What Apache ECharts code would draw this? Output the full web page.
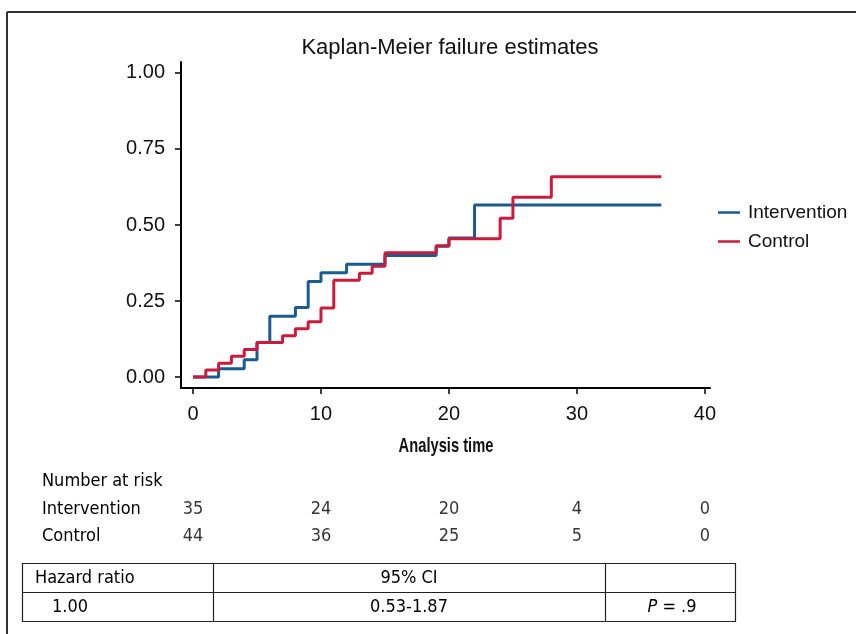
<!DOCTYPE html>
<html>
<head>
<meta charset="utf-8">
<script src="https://cdn.jsdelivr.net/npm/echarts@6/dist/echarts.min.js"></script>
<style>
html,body{margin:0;padding:0;background:#fff;}
#chart{width:856px;height:634px;}
</style>
</head>
<body>
<div id="chart"></div>
<script>
// ---- data ----
var seriesNames = ['Intervention', 'Control'];
var interventionTimes = [0, 2, 4, 5, 6, 8, 9, 10, 12, 15, 19, 20, 22, 36.6];
var interventionFail  = [0, 0.027, 0.057, 0.114, 0.2, 0.229, 0.314, 0.343, 0.371, 0.4, 0.43, 0.457, 0.566, 0.566];
var controlTimes = [0, 1, 2, 3, 4, 5, 7, 8, 9, 10, 11, 13, 14, 15, 19, 20, 24, 25, 28, 36.6];
var controlFail  = [0, 0.023, 0.045, 0.068, 0.091, 0.114, 0.136, 0.159, 0.182, 0.227, 0.318, 0.341, 0.364, 0.409, 0.432, 0.455, 0.522, 0.591, 0.659, 0.659];
var xTicks = [0, 10, 20, 30, 40];
var yTicks = [0, 0.25, 0.5, 0.75, 1.0];
var riskTimes = [0, 10, 20, 30, 40];
var riskIntervention = [35, 24, 20, 4, 0];
var riskControl = [44, 36, 25, 5, 0];
var hrHeader = ['Hazard ratio', '95% CI', ''];
var hrRow = ['1.00', '0.53-1.87', 'P = .9'];

var blue = '#1b5b8f';
var red = '#cc1a3d';
var narrow = '"DejaVu Sans Condensed","Liberation Sans Narrow",sans-serif';
var sans = '"Liberation Sans", Arial, Helvetica, sans-serif';

function pairs(xs, ys) { return xs.map(function (x, i) { return [x, ys[i]]; }); }
function riskPairs(vals, cat) { return riskTimes.map(function (t, i) { return [t, cat, vals[i]]; }); }

var chart = echarts.init(document.getElementById('chart'), null, {renderer: 'canvas'});
var GL = 181, GR = 146;
var xMin = -0.94, xMax = 40.4;

var option = {
  animation: false,
  backgroundColor: '#fff',
  title: {
    text: 'Kaplan-Meier failure estimates',
    left: 445, top: 32, textAlign: 'center',
    textStyle: {fontFamily: sans, fontSize: 22, fontWeight: 'normal', color: '#111'}
  },
  legend: {
    orient: 'vertical', left: 713, top: 198,
    itemWidth: 22, itemHeight: 16, itemGap: 10,
    icon: 'path://M0,6 L22,6 L22,8.5 L0,8.5 Z',
    textStyle: {fontFamily: sans, fontSize: 19, color: '#111', padding: [0, 0, 0, 3]},
    data: seriesNames
  },
  grid: [
    {left: GL, right: GR, top: 62, bottom: 246},
    {left: GL, right: GR, top: 496, height: 54}
  ],
  xAxis: [
    {
      type: 'value', gridIndex: 0, min: xMin, max: xMax,
      splitLine: {show: false},
      axisLine: {onZero: false, lineStyle: {color: '#000', width: 2}},
      axisTick: {show: true, length: 6, lineStyle: {color: '#000', width: 1.5}, customValues: xTicks},
      axisLabel: {fontFamily: sans, fontSize: 20, color: '#111', margin: 16, customValues: xTicks}
    },
    {
      type: 'value', gridIndex: 1, min: xMin, max: xMax, show: false
    }
  ],
  yAxis: [
    {
      type: 'value', gridIndex: 0, min: -0.036, max: 1.036,
      splitLine: {show: false},
      axisLine: {show: true, onZero: false, lineStyle: {color: '#000', width: 2}},
      axisTick: {show: true, length: 6, lineStyle: {color: '#000', width: 1.5}, customValues: yTicks},
      axisLabel: {fontFamily: sans, fontSize: 20, color: '#111', margin: 16, customValues: yTicks,
        formatter: function (v) { return v.toFixed(2); }}
    },
    {
      type: 'category', gridIndex: 1, inverse: true,
      data: seriesNames,
      axisLine: {show: false}, axisTick: {show: false}, splitLine: {show: false},
      axisLabel: {align: 'left', margin: GL - 42, fontFamily: narrow, fontSize: 18, color: '#000'}
    }
  ],
  series: [
    {
      name: seriesNames[0], type: 'line', step: 'end', symbol: 'none',
      xAxisIndex: 0, yAxisIndex: 0,
      lineStyle: {color: blue, width: 3}, itemStyle: {color: blue},
      data: pairs(interventionTimes, interventionFail), z: 2
    },
    {
      name: seriesNames[1], type: 'line', step: 'end', symbol: 'none',
      xAxisIndex: 0, yAxisIndex: 0,
      lineStyle: {color: red, width: 3}, itemStyle: {color: red},
      data: pairs(controlTimes, controlFail), z: 3
    },
    {
      name: 'riskI', type: 'scatter', xAxisIndex: 1, yAxisIndex: 1, symbolSize: 0,
      data: riskPairs(riskIntervention, seriesNames[0]),
      label: {show: true, position: 'inside', fontFamily: narrow, fontSize: 18, color: '#000',
        formatter: function (p) { return String(p.value[2]); }},
      silent: true
    },
    {
      name: 'riskC', type: 'scatter', xAxisIndex: 1, yAxisIndex: 1, symbolSize: 0,
      data: riskPairs(riskControl, seriesNames[1]),
      label: {show: true, position: 'inside', fontFamily: narrow, fontSize: 18, color: '#000',
        formatter: function (p) { return String(p.value[2]); }},
      silent: true
    }
  ],
  graphic: [
    // outer frame (top and left)
    {type: 'line', shape: {x1: 7, y1: 12, x2: 856, y2: 12}, style: {stroke: '#333', lineWidth: 2}},
    {type: 'line', shape: {x1: 7, y1: 12, x2: 7, y2: 634}, style: {stroke: '#333', lineWidth: 2}},
    // x-axis title (condensed)
    {type: 'text', x: 446, y: 446, scaleX: 0.7, originX: 0, originY: 0,
      style: {text: 'Analysis time', font: 'bold 21px ' + sans, fill: '#111', textAlign: 'center', textVerticalAlign: 'middle'}},
    {type: 'text', x: 42, y: 481, style: {text: 'Number at risk', font: '18px ' + narrow, fill: '#000', textVerticalAlign: 'middle'}},
    // hazard ratio table
    {type: 'rect', shape: {x: 22.5, y: 563.5, width: 713, height: 58}, style: {fill: 'none', stroke: '#222', lineWidth: 1.2}},
    {type: 'line', shape: {x1: 22.5, y1: 592.5, x2: 735.5, y2: 592.5}, style: {stroke: '#222', lineWidth: 1.2}},
    {type: 'line', shape: {x1: 213.5, y1: 563.5, x2: 213.5, y2: 621.5}, style: {stroke: '#222', lineWidth: 1.2}},
    {type: 'line', shape: {x1: 605.5, y1: 563.5, x2: 605.5, y2: 621.5}, style: {stroke: '#222', lineWidth: 1.2}},
    {type: 'text', x: 35, y: 578, style: {text: hrHeader[0], font: '18px ' + narrow, fill: '#000', textVerticalAlign: 'middle'}},
    {type: 'text', x: 409, y: 578, style: {text: hrHeader[1], font: '18px ' + narrow, fill: '#000', textAlign: 'center', textVerticalAlign: 'middle'}},
    {type: 'text', x: 70, y: 607, style: {text: hrRow[0], font: '18px ' + narrow, fill: '#000', textAlign: 'center', textVerticalAlign: 'middle'}},
    {type: 'text', x: 409, y: 607, style: {text: hrRow[1], font: '18px ' + narrow, fill: '#000', textAlign: 'center', textVerticalAlign: 'middle'}},
    {type: 'text', x: 672, y: 607, style: {
      text: '{i|P}{n| = .9}', textAlign: 'center', textVerticalAlign: 'middle',
      rich: {
        i: {font: 'italic 18px ' + narrow, fill: '#000'},
        n: {font: '18px ' + narrow, fill: '#000'}
      }
    }}
  ]
};
chart.setOption(option);
</script>
</body>
</html>
